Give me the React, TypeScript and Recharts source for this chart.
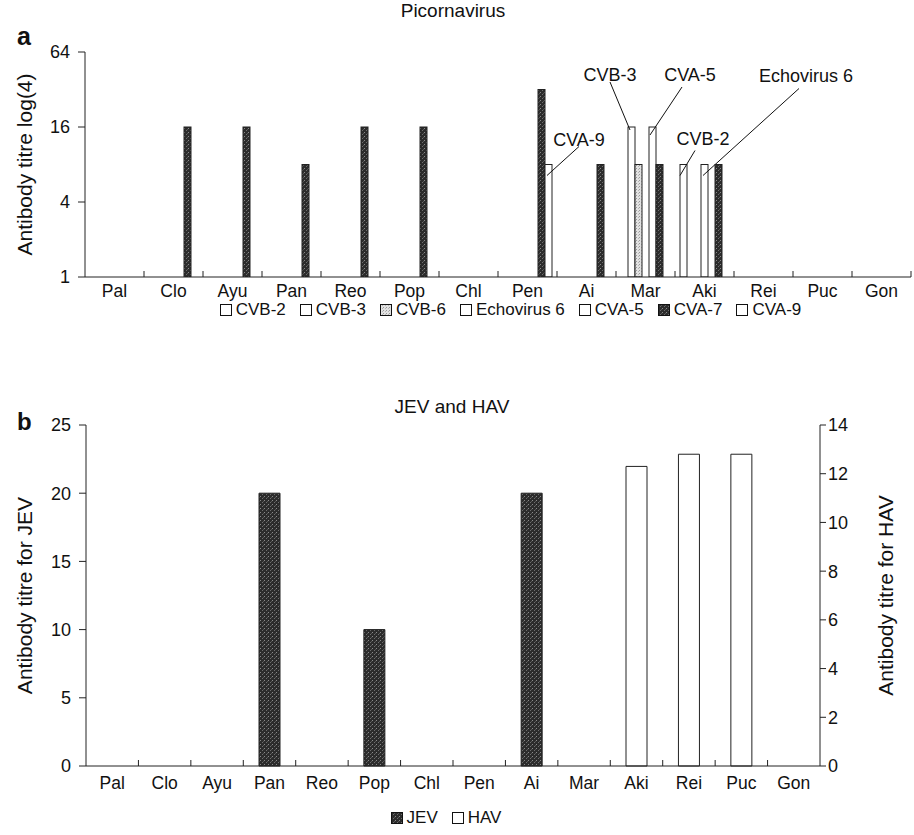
import { BarChart, Bar, XAxis, YAxis, Legend, ReferenceLine } from 'recharts';

const sites = ['Pal', 'Clo', 'Ayu', 'Pan', 'Reo', 'Pop', 'Chl', 'Pen', 'Ai', 'Mar', 'Aki', 'Rei', 'Puc', 'Gon'];

// panel a: antibody titres, null = nothing detected
const cvb2 = [null, null, null, null, null, null, null, null, null, null, 8, null, null, null];
const cvb3 = [null, null, null, null, null, null, null, null, null, 16, null, null, null, null];
const cvb6 = [null, null, null, null, null, null, null, null, null, 8, null, null, null, null];
const echo6 = [null, null, null, null, null, null, null, null, null, null, 8, null, null, null];
const cva5 = [null, null, null, null, null, null, null, null, null, 16, null, null, null, null];
const cva7 = [null, 16, 16, 8, 16, 16, null, 32, 8, 8, 8, null, null, null];
const cva9 = [null, null, null, null, null, null, null, 8, null, null, null, null, null, null];
const logTicks = [1, 4, 16, 64];

// panel b
const jev = [null, null, null, 20, null, 10, null, null, 20, null, null, null, null, null];
const hav = [null, null, null, null, null, null, null, null, null, null, 12.3, 12.8, 12.8, null];
const jevTicks = [0, 5, 10, 15, 20, 25];
const havTicks = [0, 2, 4, 6, 8, 10, 12, 14];

const DARK = 'url(#darkStipple)';
const LIGHT = 'url(#lightStipple)';
const WHITE = '#ffffff';

const picornaSeries = [
  { key: 'cvb2', name: 'CVB-2', values: cvb2, fill: WHITE },
  { key: 'cvb3', name: 'CVB-3', values: cvb3, fill: WHITE },
  { key: 'cvb6', name: 'CVB-6', values: cvb6, fill: LIGHT },
  { key: 'echo6', name: 'Echovirus 6', values: echo6, fill: WHITE },
  { key: 'cva5', name: 'CVA-5', values: cva5, fill: WHITE },
  { key: 'cva7', name: 'CVA-7', values: cva7, fill: DARK },
  { key: 'cva9', name: 'CVA-9', values: cva9, fill: WHITE },
];

const picornaData = sites.map((site, i) => {
  const row: any = { site };
  picornaSeries.forEach((s) => (row[s.key] = s.values[i]));
  return row;
});

const jevHavData = sites.map((site, i) => ({ site, jev: jev[i], hav: hav[i] }));

// callouts: text + leader line, offsets relative to the bar's top-left corner
const callouts = [
  { series: 'cva9', site: 'Pen', text: 'CVA-9', tx: 34, ty: -25, l: [34, -18, 2, 11] },
  { series: 'cvb3', site: 'Mar', text: 'CVB-3', tx: -18, ty: -52, l: [-18, -45, 2, 3] },
  { series: 'cva5', site: 'Mar', text: 'CVA-5', tx: 41, ty: -52, l: [33, -40, 1, 8] },
  { series: 'cvb2', site: 'Aki', text: 'CVB-2', tx: 23, ty: -26, l: [15, -14, 0, 11] },
  { series: 'echo6', site: 'Aki', text: 'Echovirus 6', tx: 105, ty: -89, l: [98, -76, 2, 11] },
];

const INK = '#111';
const FONT = '"Liberation Sans", Arial, Helvetica, sans-serif';

// bar rectangle, plus the callout when this bar has one
const calloutBar = (seriesKey: string) => (props: any) => {
  const { x, y, width, height, fill, payload } = props;
  const h = Number(height);
  if (!Number.isFinite(h) || h <= 0) return <g />;
  const c = callouts.find((k) => k.series === seriesKey && payload && k.site === payload.site);
  return (
    <g>
      <rect x={x} y={y} width={width} height={h} fill={fill} stroke="#222" strokeWidth={1} />
      {c && (
        <g>
          <line x1={x + c.l[0]} y1={y + c.l[1]} x2={x + c.l[2]} y2={y + c.l[3]} stroke={INK} strokeWidth={1} />
          <text x={x + c.tx} y={y + c.ty} textAnchor="middle" dominantBaseline="central" fontSize={18} fill={INK}>
            {c.text}
          </text>
        </g>
      )}
    </g>
  );
};

// small upward tick at a category boundary
const BoundaryTick = (props: any) => {
  const { x1, y1, y2 } = props;
  const yb = Math.max(Number(y1), Number(y2));
  return <line x1={x1} x2={x1} y1={yb} y2={yb - 6} stroke="#222" strokeWidth={1} />;
};

const BoxLegend = ({ payload, order, fills, shift }: any) => {
  const items = [...(payload || [])].sort((a: any, b: any) => order.indexOf(a.value) - order.indexOf(b.value));
  return (
    <div
      style={{
        display: 'flex',
        justifyContent: 'center',
        alignItems: 'center',
        gap: 14,
        fontSize: 17,
        color: INK,
        transform: `translateX(${shift}px)`,
        height: '100%',
      }}
    >
      {items.map((p: any) => (
        <div key={p.value} style={{ display: 'flex', alignItems: 'center', gap: 4 }}>
          <svg width={12} height={12}>
            <rect x={0.5} y={0.5} width={11} height={11} fill={fills[p.value]} stroke={INK} strokeWidth={1} />
          </svg>
          <span>{p.value}</span>
        </div>
      ))}
    </div>
  );
};

const Patterns = ({ suffix = '' }: { suffix?: string }) => (
  <defs>
    <pattern id={`darkStipple${suffix}`} width={4} height={4} patternUnits="userSpaceOnUse">
      <rect width={4} height={4} fill="#2c2c2c" />
      <rect x={0} y={0} width={1} height={1} fill="#8a8a8a" />
      <rect x={2} y={2} width={1} height={1} fill="#6e6e6e" />
      <rect x={3} y={1} width={1} height={1} fill="#555" />
    </pattern>
    <pattern id={`lightStipple${suffix}`} width={3} height={3} patternUnits="userSpaceOnUse">
      <rect width={3} height={3} fill="#e2e2e2" />
      <rect x={0} y={0} width={1} height={1} fill="#9a9a9a" />
      <rect x={2} y={1} width={1} height={1} fill="#b5b5b5" />
    </pattern>
  </defs>
);

const picornaFills: Record<string, string> = {};
picornaSeries.forEach((s) => (picornaFills[s.name] = s.fill));
const picornaOrder = picornaSeries.map((s) => s.name);

export default function App() {
  return (
    <div style={{ position: 'absolute', left: 0, top: 0, width: 914, height: 835, background: '#fff', fontFamily: FONT, color: INK }}>
      {/* panel a */}
      <div style={{ position: 'absolute', left: 0, top: 0, width: 914, textAlign: 'center', fontSize: 19, lineHeight: 1, paddingTop: 1 }}>
        <span style={{ position: 'relative', left: -4 }}>Picornavirus</span>
      </div>
      <div style={{ position: 'absolute', left: 17, top: 24, fontSize: 25, fontWeight: 'bold', lineHeight: 1 }}>a</div>
      <div style={{ position: 'absolute', left: 0, top: 0 }}>
        <BarChart width={914} height={321} data={picornaData} margin={{ top: 52, right: 3, bottom: 0, left: 0 }} barSize={7} barGap={0}>
          <Patterns />
          <XAxis dataKey="site" height={22} tickLine={false} axisLine={{ stroke: '#222' }} tickMargin={2} tick={{ fontSize: 17.5, fill: INK }} interval={0} />
          <YAxis
            scale="log"
            type="number"
            domain={[1, 64]}
            ticks={logTicks}
            allowDataOverflow
            width={85}
            tickSize={7}
            tickMargin={8}
            axisLine={{ stroke: '#222' }}
            tickLine={{ stroke: '#222' }}
            tick={{ fontSize: 18, fill: INK }}
            label={{ value: 'Antibody titre log(4)', angle: -90, position: 'insideLeft', offset: 25, fontSize: 21, fill: INK, style: { textAnchor: 'middle' } }}
          />
          {sites.slice(1).map((s) => (
            <ReferenceLine key={s} x={s} position="start" shape={BoundaryTick} />
          ))}
          <ReferenceLine x="Gon" position="end" shape={BoundaryTick} />
          {picornaSeries.map((s) => (
            <Bar key={s.key} dataKey={s.key} name={s.name} fill={s.fill} stroke="#222" strokeWidth={1} shape={calloutBar(s.key)} isAnimationActive={false} />
          ))}
          <Legend
            verticalAlign="bottom"
            height={22}
            content={(props: any) => <BoxLegend {...props} order={picornaOrder} fills={picornaFills} shift={55} />}
          />
        </BarChart>
      </div>

      {/* panel b */}
      <div style={{ position: 'absolute', left: 0, top: 397, width: 914, textAlign: 'center', fontSize: 19, lineHeight: 1 }}>
        <span style={{ position: 'relative', left: -5 }}>JEV and HAV</span>
      </div>
      <div style={{ position: 'absolute', left: 17, top: 410, fontSize: 24, fontWeight: 'bold', lineHeight: 1 }}>b</div>
      <div style={{ position: 'absolute', left: 0, top: 340 }}>
        <BarChart width={914} height={495} data={jevHavData} margin={{ top: 85, right: 0, bottom: 5, left: 0 }} barCategoryGap="30%">
          <Patterns suffix="B" />
          <XAxis xAxisId="jev" dataKey="site" height={40} tickLine={false} axisLine={{ stroke: '#222' }} tickMargin={5} tick={{ fontSize: 17.5, fill: INK }} interval={0} />
          <XAxis xAxisId="hav" dataKey="site" hide height={0} />
          <YAxis
            yAxisId="left"
            type="number"
            domain={[0, 25]}
            ticks={jevTicks}
            width={86}
            tickSize={7}
            tickMargin={8}
            axisLine={{ stroke: '#222' }}
            tickLine={{ stroke: '#222' }}
            tick={{ fontSize: 18, fill: INK }}
            label={{ value: 'Antibody titre for JEV', angle: -90, position: 'insideLeft', offset: 25, fontSize: 21, fill: INK, style: { textAnchor: 'middle' } }}
          />
          <YAxis
            yAxisId="right"
            orientation="right"
            type="number"
            domain={[0, 14]}
            ticks={havTicks}
            width={94}
            tickSize={6}
            tickMargin={2}
            axisLine={{ stroke: '#222' }}
            tickLine={{ stroke: '#222' }}
            tick={{ fontSize: 18, fill: INK }}
            label={{ value: 'Antibody titre for HAV', angle: -90, position: 'insideLeft', offset: 66, fontSize: 21, fill: INK, style: { textAnchor: 'middle' } }}
          />
          {sites.slice(1).map((s) => (
            <ReferenceLine key={s} xAxisId="jev" yAxisId="left" x={s} position="start" shape={BoundaryTick} />
          ))}
          <Bar xAxisId="jev" yAxisId="left" dataKey="jev" name="JEV" fill="url(#darkStippleB)" stroke="#222" strokeWidth={1} isAnimationActive={false} />
          <Bar xAxisId="hav" yAxisId="right" dataKey="hav" name="HAV" fill={WHITE} stroke="#222" strokeWidth={1} isAnimationActive={false} />
          <Legend
            verticalAlign="bottom"
            height={24}
            content={(props: any) => (
              <BoxLegend {...props} order={['JEV', 'HAV']} fills={{ JEV: 'url(#darkStippleB)', HAV: WHITE }} shift={-11} />
            )}
          />
        </BarChart>
      </div>
    </div>
  );
}
